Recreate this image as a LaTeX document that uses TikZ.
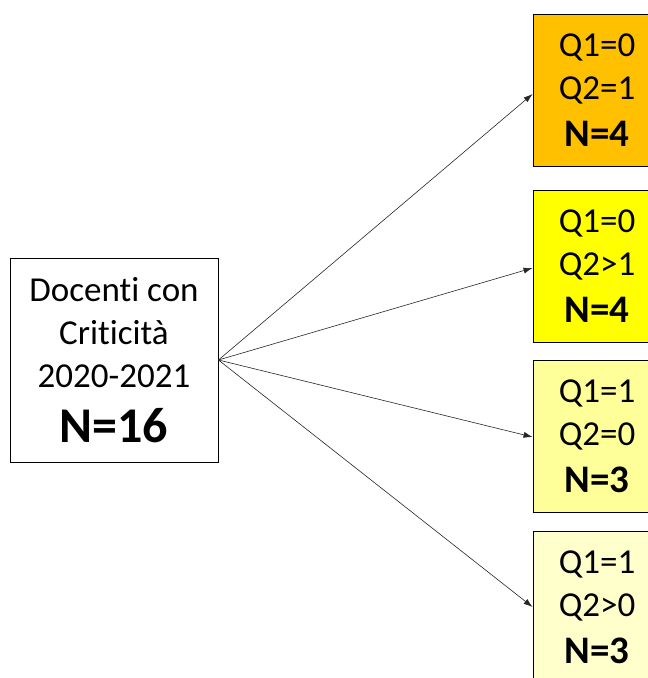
\documentclass[tikz,border=0pt]{standalone}
\usepackage{fontspec}
\setmainfont{Carlito}[Ligatures=NoCommon]
\usetikzlibrary{arrows.meta}
\definecolor{orangebox}{HTML}{FFC000}
\definecolor{yellowbox}{HTML}{FFFF00}
\definecolor{paleyellow}{HTML}{FFFF99}
\definecolor{creamyellow}{HTML}{FFFFCC}
\begin{document}
\begin{tikzpicture}[x=1pt,y=1pt,
  qbox/.style={draw=black, line width=0.9pt, minimum width=128pt, minimum height=152pt,
    inner sep=0pt, align=center, font=\fontsize{35}{43}\selectfont},
  srcbox/.style={draw=black, line width=0.9pt, minimum width=208pt, minimum height=204pt,
    inner sep=0pt, align=center, font=\fontsize{35}{43}\selectfont},
  conn/.style={-{Latex[length=9pt,width=6pt]}, line width=0.6pt, draw=black!85}]
\useasboundingbox (0,0) rectangle (648,678);
\clip (0,0) rectangle (648,678);
\node[srcbox] (src) at (114,318) {Docenti con\\Criticità\\2020-2021\\[12pt]{\fontsize{50}{50}\selectfont\bfseries N=16}};
\node[qbox, fill=orangebox] (b1) at (597,588) {Q1=0\\Q2=1\\[4pt]{\fontsize{39}{40}\selectfont\bfseries N=4}};
\node[qbox, fill=yellowbox] (b2) at (597,412) {Q1=0\\Q2>1\\[4pt]{\fontsize{39}{40}\selectfont\bfseries N=4}};
\node[qbox, fill=paleyellow] (b3) at (597,242) {Q1=1\\Q2=0\\[4pt]{\fontsize{39}{40}\selectfont\bfseries N=3}};
\node[qbox, fill=creamyellow] (b4) at (597,71) {Q1=1\\Q2>0\\[4pt]{\fontsize{39}{40}\selectfont\bfseries N=3}};
\draw[conn] (src.east) -- ([yshift=-4pt]b1.west);
\draw[conn] (src.east) -- ([yshift=-2pt]b2.west);
\draw[conn] (src.east) -- ([yshift=-1pt]b3.west);
\draw[conn] (src.east) -- (b4.west);
\end{tikzpicture}
\end{document}
